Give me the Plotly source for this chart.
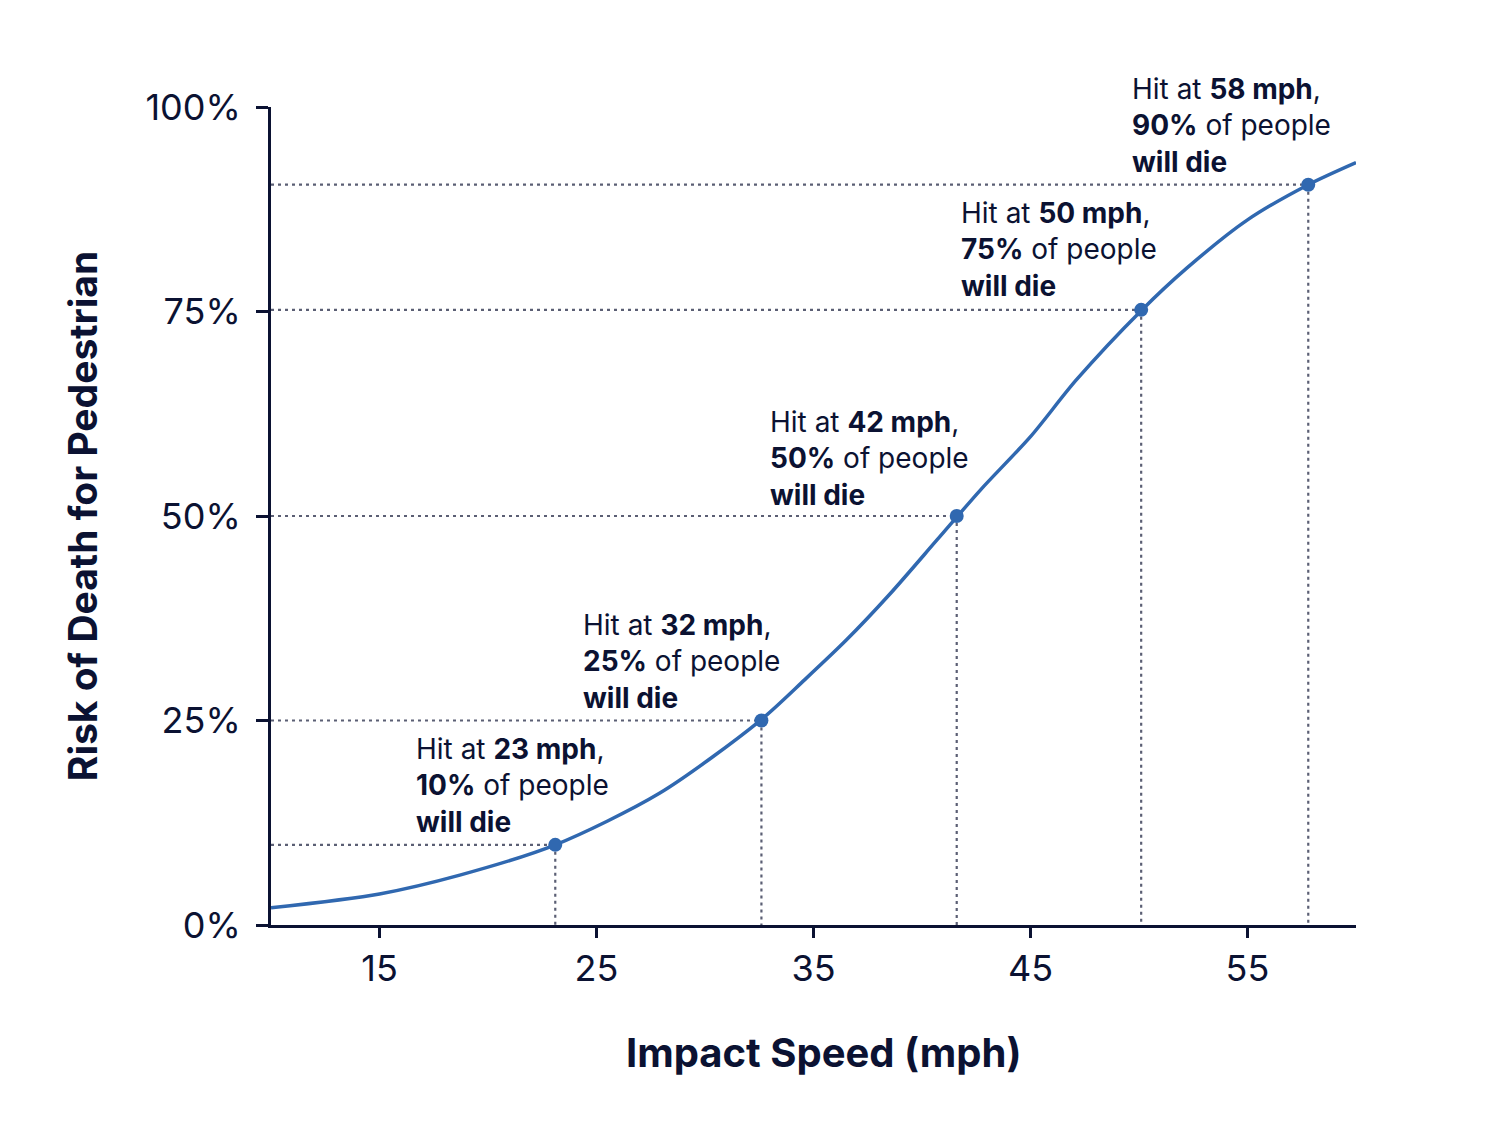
import plotly.graph_objects as go

# Curve samples (speed mph, risk %)
curve_speed = [10.0, 15.0, 18.7, 23.1, 27.9, 32.5, 34.6, 36.5, 38.5, 40.7, 42.7, 45.0, 47.1, 50.1, 52.2, 55.0, 57.8, 60.0]
curve_risk = [2.1, 3.8, 6.1, 9.8, 16.1, 24.9, 30.0, 34.8, 40.4, 47.1, 53.2, 59.7, 66.6, 75.1, 80.3, 86.2, 90.5, 93.2]

# Highlighted points
point_speed = [23.1, 32.6, 41.6, 50.1, 57.8]
point_risk = [9.8, 25.0, 50.0, 75.2, 90.5]
label_speed = ["23", "32", "42", "50", "58"]
label_risk = ["10%", "25%", "50%", "75%", "90%"]

# label anchor positions (data coords, left/middle)
label_x = [16.6, 24.3, 32.88, 41.7, 49.6]
label_y = [17.1, 32.2, 57.0, 82.6, 97.8]

x_ticks = [15, 25, 35, 45, 55]
y_ticks = [0, 25, 50, 75, 100]
y_tick_text = ["0%", "25%", "50%", "75%", "100%"]

NAVY = "#0b1232"
BLUE = "#3068b0"
GUIDE = "#5b5f74"
FONT = "Inter, Lato, sans-serif"

fig = go.Figure()

# guide lines
gx, gy = [], []
for sx, ry in zip(point_speed, point_risk):
    gx += [10, sx, None, sx, sx, None]
    gy += [ry, ry, None, ry, 0, None]
fig.add_trace(go.Scatter(x=gx, y=gy, mode="lines",
                         line=dict(color=GUIDE, width=2.2, dash="3px,4px"),
                         hoverinfo="skip", showlegend=False, cliponaxis=False))

fig.add_trace(go.Scatter(x=curve_speed, y=curve_risk, mode="lines",
                         line=dict(color=BLUE, width=3.5, shape="spline", smoothing=0.8),
                         showlegend=False, cliponaxis=False))

fig.add_trace(go.Scatter(x=point_speed, y=point_risk, mode="markers",
                         marker=dict(color=BLUE, size=14),
                         showlegend=False, cliponaxis=False))

for lx, ly, s, r in zip(label_x, label_y, label_speed, label_risk):
    fig.add_annotation(x=lx, y=ly, xref="x", yref="y", showarrow=False,
                       xanchor="left", yanchor="middle", align="left",
                       text=f"Hit at <b>{s} mph</b>,<br><b>{r}</b> of people<br><b>will die</b>",
                       font=dict(family=FONT, size=28, color=NAVY))

# x-axis title
fig.add_annotation(x=0.509, y=0, xref="paper", yref="paper", showarrow=False,
                   xanchor="center", yanchor="middle", yshift=-127,
                   text="<b>Impact Speed (mph)</b>",
                   font=dict(family=FONT, size=40, color=NAVY))

fig.update_layout(
    width=1491, height=1145,
    margin=dict(l=263, r=143, t=99, b=228),
    paper_bgcolor="white", plot_bgcolor="white",
    font=dict(family=FONT, color=NAVY),
    xaxis=dict(range=[10, 60], tickvals=x_ticks, showgrid=False, zeroline=False,
               showline=True, linecolor=NAVY, linewidth=3,
               ticks="outside", ticklen=10, tickwidth=3, tickcolor=NAVY,
               tickfont=dict(family=FONT, size=36, color=NAVY),
               ticklabelstandoff=0),
    yaxis=dict(range=[0, 100], tickvals=y_ticks, ticktext=y_tick_text, showgrid=False,
               zeroline=False, showline=True, linecolor=NAVY, linewidth=3,
               ticks="outside", ticklen=12, tickwidth=3, tickcolor=NAVY,
               tickfont=dict(family=FONT, size=36, color=NAVY),
               ticklabelstandoff=8,
               title=dict(text="<b>Risk of Death for Pedestrian</b>", standoff=36,
                          font=dict(family=FONT, size=39, color=NAVY))),
)

fig.write_html("out.html")
